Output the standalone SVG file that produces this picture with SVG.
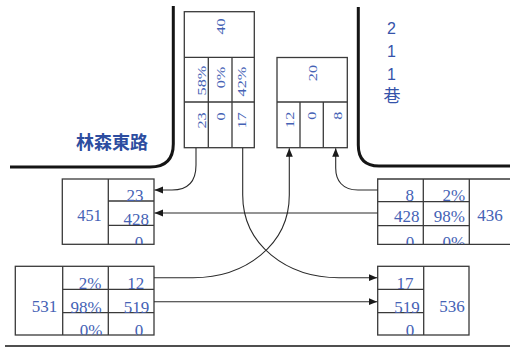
<svg xmlns="http://www.w3.org/2000/svg" width="510" height="347" viewBox="0 0 510 347">
<style>
.bx{fill:#fff;stroke:#3a3a3a;stroke-width:1.3}
.ln{stroke:#3a3a3a;stroke-width:1.3;fill:none}
.t{font-family:"Liberation Serif","Times New Roman",serif;font-size:17px;fill:#4562b5;text-anchor:middle}
.v{font-family:"Liberation Serif","Times New Roman",serif;font-size:13.5px;fill:#4562b5;text-anchor:end}
.road{fill:none;stroke:#151515;stroke-width:3}
.cn{fill:none;stroke:#2a2a2a;stroke-width:1.1;marker-end:url(#ah)}
.lbl{font-family:"Noto Sans CJK TC","Noto Sans CJK SC",sans-serif;font-weight:bold;font-size:18px;fill:#2d4da0}
.st{font-family:"Liberation Sans","Noto Sans CJK TC",sans-serif;font-size:16px;fill:#3553aa;text-anchor:middle}
</style>
<defs>
<marker id="ah" markerWidth="9" markerHeight="8" refX="8.5" refY="3.5" orient="auto" markerUnits="userSpaceOnUse">
<path d="M0,0 L8.5,3.5 L0,7 z" fill="#1a1a1a"/>
</marker>
<clipPath id="c451"><rect x="62.3" y="179" width="91.7" height="65.3"/></clipPath>
<clipPath id="c436"><rect x="377.7" y="179" width="132.3" height="65.3"/></clipPath>
<clipPath id="c531"><rect x="15.3" y="266.3" width="138.7" height="68.7"/></clipPath>
<clipPath id="c536"><rect x="377.7" y="266.3" width="91.3" height="68.7"/></clipPath>
</defs>
<rect width="510" height="347" fill="#fff"/>

<g id="roads">
<path class="road" d="M173.3,6 V144 Q173.3,167 150,167 H10"/>
<path class="road" d="M358.3,7 V145 Q358.3,166 379,166 H510"/>
<line x1="5" y1="346" x2="510" y2="346" stroke="#151515" stroke-width="1.6"/>
</g>

<g id="labels">
<text class="lbl" x="76" y="148.7">林森東路</text>
<text class="st" x="391.5" y="34.3">2</text>
<text class="st" x="391.5" y="56.7">1</text>
<text class="st" x="391.5" y="80">1</text>
<text class="st" x="392" y="102" style="font-family:'Noto Sans CJK TC',sans-serif;font-size:17px">巷</text>
</g>

<g id="node-north-in">
<rect class="bx" x="184.3" y="11.7" width="70" height="136"/>
<path class="ln" d="M184.3,57.3 H254.3 M184.3,102 H254.3 M208.3,57.3 V147.7 M232,57.3 V147.7"/>
<text class="v" transform="translate(224.5,18.3) rotate(-90) scale(1.2,1)">40</text>
<text class="v" transform="translate(205.5,65.7) rotate(-90) scale(1.2,1)">58%</text>
<text class="v" transform="translate(224.5,66.7) rotate(-90) scale(1.2,1)">0%</text>
<text class="v" transform="translate(246,66.7) rotate(-90) scale(1.2,1)">42%</text>
<text class="v" transform="translate(205.5,112.3) rotate(-90) scale(1.2,1)">23</text>
<text class="v" transform="translate(224.5,112.3) rotate(-90) scale(1.2,1)">0</text>
<text class="v" transform="translate(246,112.3) rotate(-90) scale(1.2,1)">17</text>
</g>

<g id="node-north-out">
<rect class="bx" x="277" y="57.5" width="70.3" height="90.2"/>
<path class="ln" d="M277,102 H347.3 M300,102 V147.7 M323.3,102 V147.7"/>
<text class="v" transform="translate(317,65) rotate(-90) scale(1.2,1)">20</text>
<text class="v" transform="translate(293.5,111.7) rotate(-90) scale(1.2,1)">12</text>
<text class="v" transform="translate(316,111.7) rotate(-90) scale(1.2,1)">0</text>
<text class="v" transform="translate(341.5,111.7) rotate(-90) scale(1.2,1)">8</text>
</g>

<g id="node-west-out">
<rect class="bx" x="62.3" y="179" width="91.7" height="65.3"/>
<path class="ln" d="M108.3,179 V244.3 M108.3,201 H154 M108.3,225.3 H154"/>
<g clip-path="url(#c451)">
<text class="t" x="135" y="201">23</text>
<text class="t" x="136.2" y="224.5">428</text>
<text class="t" x="139" y="248">0</text>
<text class="t" x="89.5" y="221" style="font-size:16.3px">451</text>
</g>
</g>

<g id="node-east-in">
<path class="ln" d="M510,179 H377.7 V244.3 H510 M377.7,201.7 H469.3 M377.7,225.7 H469.3 M423.3,179 V244.3 M469.3,179 V244.3"/>
<g clip-path="url(#c436)">
<text class="t" x="409.7" y="201">8</text>
<text class="t" x="453.8" y="201">2%</text>
<text class="t" x="406.7" y="222">428</text>
<text class="t" x="449.3" y="222">98%</text>
<text class="t" x="410" y="248">0</text>
<text class="t" x="453.8" y="248">0%</text>
<text class="t" x="490" y="221">436</text>
</g>
</g>

<g id="node-west-in">
<rect class="bx" x="15.3" y="266.3" width="138.7" height="68.7"/>
<path class="ln" d="M62.7,266.3 V335 M108.3,266.3 V335 M62.7,289.3 H154 M62.7,312.7 H154"/>
<g clip-path="url(#c531)">
<text class="t" x="90" y="289.3">2%</text>
<text class="t" x="135.8" y="289.3">12</text>
<text class="t" x="86" y="312.7">98%</text>
<text class="t" x="136.5" y="312.7">519</text>
<text class="t" x="44.5" y="311.7">531</text>
<text class="t" x="91" y="336">0%</text>
<text class="t" x="139" y="336">0</text>
</g>
</g>

<g id="node-east-out">
<rect class="bx" x="377.7" y="266.3" width="91.3" height="68.7"/>
<path class="ln" d="M423.7,266.3 V335 M377.7,289.3 H423.7 M377.7,312.7 H423.7"/>
<g clip-path="url(#c536)">
<text class="t" x="405" y="289.3">17</text>
<text class="t" x="407" y="312.7">519</text>
<text class="t" x="410" y="336">0</text>
<text class="t" x="452" y="311.7">536</text>
</g>
</g>

<g id="connectors">
<path class="cn" d="M196,148 L196,165 C196,182 188,190 172,190 L154.5,190"/>
<path class="cn" d="M377.7,213 L154.5,213"/>
<path class="cn" d="M377.7,190 L358,190 C342,190 335.7,180 335.7,168 L335.7,148.3"/>
<path class="cn" d="M154,277.7 L193,277.7 C245,277.7 289.3,245 289.3,195 L289.3,148.3"/>
<path class="cn" d="M242.7,148 L242.7,195 C242.7,245 287,277.7 339,277.7 L377.2,277.7"/>
<path class="cn" d="M154,301.7 L377.2,301.7"/>
</g>
</svg>
